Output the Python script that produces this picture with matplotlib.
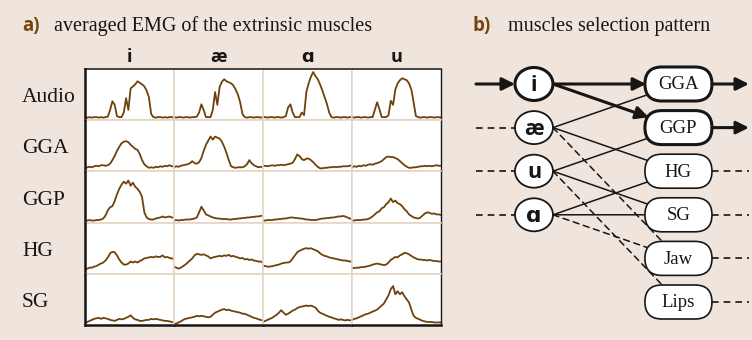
import matplotlib
matplotlib.use('Agg')
import numpy as np
import matplotlib.pyplot as plt
from matplotlib.patches import Ellipse, FancyBboxPatch

# ---- panel a data: averaged EMG, one list per vowel (i, ae, a, u), scaled 0..1 of cell height
vowels_a = ['i', 'æ', 'ɑ', 'u']
signals = ['Audio', 'GGA', 'GGP', 'HG', 'SG']

audio = [
    [0.06, 0.05, 0.06, 0.05, 0.06, 0.06, 0.05, 0.06, 0.05, 0.06, 0.07, 0.2, 0.37, 0.3, 0.08, 0.06, 0.06, 0.15, 0.43, 0.2,
     0.62, 0.66, 0.7, 0.76, 0.73, 0.7, 0.66, 0.58, 0.45, 0.12, 0.06, 0.05, 0.06, 0.06, 0.05, 0.06, 0.05, 0.06, 0.06, 0.05],
    [0.06, 0.05, 0.06, 0.06, 0.05, 0.06, 0.06, 0.05, 0.06, 0.06, 0.07, 0.15, 0.31, 0.2, 0.06, 0.06, 0.06, 0.2, 0.55, 0.3,
     0.65, 0.75, 0.8, 0.76, 0.74, 0.72, 0.68, 0.6, 0.5, 0.35, 0.12, 0.06, 0.05, 0.06, 0.06, 0.05, 0.06, 0.06, 0.05, 0.06],
    [0.06, 0.06, 0.05, 0.06, 0.06, 0.05, 0.06, 0.06, 0.05, 0.06, 0.08, 0.25, 0.31, 0.15, 0.06, 0.06, 0.06, 0.15, 0.1, 0.55,
     0.72, 0.85, 0.94, 0.86, 0.8, 0.7, 0.58, 0.45, 0.32, 0.15, 0.06, 0.05, 0.06, 0.06, 0.05, 0.06, 0.06, 0.05, 0.06, 0.06],
    [0.06, 0.05, 0.06, 0.06, 0.05, 0.06, 0.06, 0.05, 0.06, 0.06, 0.2, 0.35, 0.22, 0.06, 0.06, 0.06, 0.1, 0.38, 0.3, 0.6,
     0.72, 0.78, 0.82, 0.8, 0.78, 0.72, 0.6, 0.35, 0.08, 0.06, 0.05, 0.06, 0.06, 0.05, 0.06, 0.06, 0.05, 0.06, 0.06, 0.05],
]
gga = [
    [0.06, 0.08, 0.09, 0.08, 0.1, 0.11, 0.1, 0.12, 0.12, 0.11, 0.12, 0.15, 0.22, 0.3, 0.4, 0.48, 0.55, 0.58, 0.59, 0.57,
     0.52, 0.48, 0.44, 0.42, 0.34, 0.22, 0.14, 0.1, 0.07, 0.08, 0.07, 0.09, 0.08, 0.1, 0.09, 0.11, 0.1, 0.12, 0.1, 0.1],
    [0.08, 0.1, 0.09, 0.11, 0.12, 0.13, 0.14, 0.16, 0.2, 0.16, 0.15, 0.18, 0.26, 0.4, 0.52, 0.6, 0.68, 0.62, 0.68, 0.66,
     0.64, 0.58, 0.48, 0.36, 0.22, 0.1, 0.08, 0.07, 0.08, 0.08, 0.08, 0.1, 0.14, 0.22, 0.16, 0.12, 0.1, 0.08, 0.09, 0.08],
    [0.1, 0.11, 0.1, 0.11, 0.12, 0.11, 0.12, 0.12, 0.13, 0.12, 0.13, 0.14, 0.15, 0.17, 0.24, 0.33, 0.3, 0.24, 0.22, 0.25,
     0.25, 0.22, 0.18, 0.13, 0.09, 0.06, 0.06, 0.07, 0.07, 0.08, 0.08, 0.09, 0.08, 0.09, 0.09, 0.1, 0.1, 0.1, 0.11, 0.12],
    [0.08, 0.1, 0.09, 0.11, 0.1, 0.12, 0.11, 0.13, 0.14, 0.13, 0.15, 0.16, 0.18, 0.2, 0.24, 0.28, 0.29, 0.28, 0.28, 0.26,
     0.24, 0.2, 0.16, 0.12, 0.09, 0.07, 0.07, 0.08, 0.08, 0.09, 0.1, 0.1, 0.11, 0.1, 0.11, 0.1, 0.11, 0.12, 0.11, 0.11],
]
ggp = [
    [0.04, 0.04, 0.05, 0.04, 0.04, 0.05, 0.05, 0.06, 0.08, 0.14, 0.24, 0.3, 0.32, 0.42, 0.55, 0.66, 0.74, 0.8, 0.76, 0.82,
     0.72, 0.78, 0.7, 0.66, 0.6, 0.5, 0.2, 0.1, 0.07, 0.06, 0.06, 0.08, 0.09, 0.1, 0.12, 0.1, 0.11, 0.12, 0.1, 0.1],
    [0.04, 0.05, 0.04, 0.05, 0.05, 0.06, 0.06, 0.06, 0.07, 0.08, 0.1, 0.2, 0.31, 0.24, 0.16, 0.14, 0.12, 0.1, 0.09, 0.08,
     0.08, 0.07, 0.07, 0.07, 0.06, 0.06, 0.07, 0.07, 0.08, 0.08, 0.09, 0.09, 0.1, 0.1, 0.11, 0.11, 0.12, 0.12, 0.13, 0.14],
    [0.04, 0.04, 0.05, 0.05, 0.05, 0.06, 0.06, 0.07, 0.07, 0.08, 0.08, 0.09, 0.1, 0.1, 0.09, 0.09, 0.08, 0.08, 0.07, 0.06,
     0.06, 0.05, 0.05, 0.05, 0.06, 0.07, 0.08, 0.08, 0.09, 0.09, 0.1, 0.1, 0.11, 0.12, 0.12, 0.13, 0.12, 0.1, 0.08, 0.07],
    [0.04, 0.04, 0.05, 0.05, 0.05, 0.06, 0.06, 0.07, 0.09, 0.12, 0.16, 0.2, 0.22, 0.28, 0.3, 0.36, 0.4, 0.47, 0.4, 0.43,
     0.38, 0.36, 0.32, 0.26, 0.22, 0.16, 0.13, 0.1, 0.09, 0.08, 0.1, 0.14, 0.18, 0.2, 0.19, 0.17, 0.18, 0.16, 0.16, 0.15],
]
hg = [
    [0.1, 0.1, 0.12, 0.12, 0.14, 0.15, 0.18, 0.2, 0.22, 0.26, 0.32, 0.4, 0.43, 0.42, 0.36, 0.28, 0.22, 0.18, 0.18, 0.2,
     0.24, 0.22, 0.24, 0.22, 0.25, 0.27, 0.3, 0.31, 0.32, 0.33, 0.32, 0.34, 0.33, 0.33, 0.36, 0.32, 0.33, 0.31, 0.3, 0.29],
    [0.14, 0.12, 0.1, 0.12, 0.15, 0.18, 0.22, 0.26, 0.3, 0.36, 0.39, 0.38, 0.37, 0.38, 0.36, 0.34, 0.3, 0.32, 0.33, 0.34,
     0.35, 0.34, 0.36, 0.35, 0.37, 0.34, 0.35, 0.33, 0.32, 0.3, 0.31, 0.28, 0.29, 0.27, 0.28, 0.26, 0.25, 0.24, 0.24, 0.22],
    [0.16, 0.15, 0.14, 0.14, 0.15, 0.16, 0.17, 0.18, 0.2, 0.21, 0.22, 0.22, 0.24, 0.3, 0.36, 0.42, 0.45, 0.47, 0.49, 0.5,
     0.49, 0.5, 0.48, 0.46, 0.44, 0.4, 0.37, 0.35, 0.34, 0.32, 0.31, 0.3, 0.29, 0.28, 0.27, 0.26, 0.26, 0.25, 0.24, 0.24],
    [0.12, 0.11, 0.12, 0.12, 0.13, 0.13, 0.14, 0.15, 0.16, 0.18, 0.19, 0.2, 0.19, 0.18, 0.17, 0.18, 0.22, 0.27, 0.3, 0.33,
     0.32, 0.36, 0.38, 0.41, 0.4, 0.38, 0.35, 0.32, 0.3, 0.28, 0.28, 0.27, 0.27, 0.26, 0.27, 0.26, 0.25, 0.25, 0.24, 0.24],
]
sg = [
    [0.04, 0.06, 0.08, 0.1, 0.12, 0.13, 0.14, 0.12, 0.14, 0.13, 0.12, 0.1, 0.09, 0.08, 0.1, 0.12, 0.11, 0.12, 0.14, 0.16,
     0.19, 0.14, 0.11, 0.1, 0.08, 0.08, 0.09, 0.1, 0.1, 0.12, 0.11, 0.12, 0.11, 0.1, 0.09, 0.08, 0.08, 0.07, 0.06, 0.05],
    [0.02, 0.03, 0.05, 0.07, 0.1, 0.12, 0.13, 0.14, 0.15, 0.16, 0.18, 0.17, 0.18, 0.17, 0.16, 0.15, 0.16, 0.2, 0.24, 0.26,
     0.28, 0.3, 0.31, 0.29, 0.3, 0.28, 0.27, 0.26, 0.25, 0.24, 0.22, 0.22, 0.2, 0.18, 0.16, 0.14, 0.13, 0.11, 0.1, 0.08],
    [0.06, 0.08, 0.1, 0.12, 0.14, 0.17, 0.2, 0.24, 0.29, 0.24, 0.2, 0.22, 0.25, 0.28, 0.3, 0.33, 0.35, 0.36, 0.37, 0.38,
     0.37, 0.38, 0.36, 0.34, 0.28, 0.24, 0.22, 0.2, 0.18, 0.16, 0.15, 0.13, 0.12, 0.1, 0.11, 0.1, 0.09, 0.1, 0.09, 0.1],
    [0.1, 0.12, 0.13, 0.15, 0.17, 0.19, 0.21, 0.22, 0.24, 0.26, 0.28, 0.3, 0.34, 0.38, 0.42, 0.5, 0.58, 0.7, 0.76, 0.6,
     0.66, 0.6, 0.64, 0.56, 0.5, 0.44, 0.3, 0.18, 0.14, 0.12, 0.1, 0.08, 0.07, 0.06, 0.06, 0.06, 0.05, 0.05, 0.05, 0.05],
]
traces = [audio, gga, ggp, hg, sg]

# ---- panel b data: vowel -> muscle selection
b_vowels = ['i', 'æ', 'u', 'ɑ']
b_muscles = ['GGA', 'GGP', 'HG', 'SG', 'Jaw', 'Lips']
strong_links = [('i', 'GGA'), ('i', 'GGP')]
weak_links = [('æ', 'GGA'), ('æ', 'HG'), ('u', 'GGP'), ('u', 'SG'), ('ɑ', 'HG'), ('ɑ', 'SG')]
dashed_links = [('æ', 'Jaw'), ('u', 'Lips'), ('ɑ', 'Jaw')]
active_vowels = ['i']
active_muscles = ['GGA', 'GGP']

BG = '#EFE5DC'
GRID = '#E3D3C2'
TRACE = '#6E420C'
LABEL = '#764413'
INK = '#161616'
SANS = ['Open Sans', 'DejaVu Sans']
W, H = 752, 340

fig = plt.figure(figsize=(W / 100, H / 100), dpi=100, facecolor=BG)

# ---------------- panel a ----------------
gs = fig.add_gridspec(5, 4, left=85 / W, right=441 / W, bottom=1 - 325 / H, top=1 - 69 / H,
                      wspace=0, hspace=0)
for r in range(5):
    for c in range(4):
        ax = fig.add_subplot(gs[r, c])
        vals = traces[r][c]
        ax.plot(np.arange(len(vals)), vals, color=TRACE, lw=1.3)
        ax.set_xlim(0, len(vals) - 1)
        ax.set_ylim(0, 1)
        ax.set_xticks([])
        ax.set_yticks([])
        ax.set_facecolor('white')
        for side, sp in ax.spines.items():
            sp.set_color(GRID)
            sp.set_linewidth(1.1)
        if c == 0:
            ax.spines['left'].set_color(INK)
            ax.spines['left'].set_linewidth(1.8)
            ax.spines['left'].set_zorder(5)
        if c == 3:
            ax.spines['right'].set_color(INK)
            ax.spines['right'].set_linewidth(1.0)
        if r == 0:
            ax.spines['top'].set_color(INK)
            ax.spines['top'].set_linewidth(1.1)
            ax.set_title(vowels_a[c], fontsize=13, fontweight='bold', family=SANS,
                         color=INK, pad=5)
        if r == 4:
            ax.spines['bottom'].set_color(INK)
            ax.spines['bottom'].set_linewidth(1.8)
            ax.spines['bottom'].set_zorder(5)
        if c == 0:
            ax.text(-63 / 89, 0.35, signals[r], transform=ax.transAxes, ha='left', va='baseline',
                    fontsize=15.5, family='Liberation Serif', color=INK)

fig.text(22 / W, 1 - 31.5 / H, 'a)', fontsize=13.5, fontweight='bold', family=SANS,
         color=LABEL, va='baseline')
fig.text(54 / W, 1 - 31.5 / H, 'averaged EMG of the extrinsic muscles', fontsize=14.5,
         family='Liberation Serif', color=INK, va='baseline')
fig.text(472 / W, 1 - 31.5 / H, 'b)', fontsize=13.5, fontweight='bold', family=SANS,
         color=LABEL, va='baseline')
fig.text(508 / W, 1 - 31.5 / H, 'muscles selection pattern', fontsize=14.5,
         family='Liberation Serif', color=INK, va='baseline')

# ---------------- panel b ----------------
axb = fig.add_axes([462 / W, 1 - 335 / H, (W - 462) / W, 280 / H])
axb.set_xlim(-0.498, 1.509)
axb.set_ylim(5.757, -0.665)
axb.axis('off')

aspect = 144.5 / 43.6
cw, ch = 0.263, 0.757      # vowel ellipse
bw, bh = 0.464, 0.78       # muscle pill
dash = (0, (4, 3))
head = 19

vrow = {v: i for i, v in enumerate(b_vowels)}
mrow = {m: i for i, m in enumerate(b_muscles)}

for v, r in vrow.items():
    strong = v in active_vowels
    axb.add_patch(Ellipse((0, r), cw, ch, facecolor='white', edgecolor=INK,
                          lw=2.2 if strong else 1.3, zorder=3))
    axb.text(0, r + 0.04, v, ha='center', va='center', fontsize=15.5, fontweight='bold',
             family=SANS, color=INK, zorder=4)
    if strong:
        axb.annotate('', xy=(-cw / 2, r), xytext=(-0.401, r),
                     arrowprops=dict(arrowstyle='-|>', lw=2.2, color=INK, mutation_scale=head,
                                     shrinkA=0, shrinkB=0))
    else:
        axb.plot([-0.401, -cw / 2], [r, r], color=INK, lw=1.2, ls=dash)

boxes = {}
for m, r in mrow.items():
    strong = m in active_muscles
    rs = (bh / aspect) / 2
    box = FancyBboxPatch((1 - bw / 2, r - bh / 2), bw, bh,
                         boxstyle=f'round,pad=0,rounding_size={rs}', mutation_aspect=aspect,
                         facecolor='white', edgecolor=INK, lw=2.2 if strong else 1.2, zorder=3)
    axb.add_patch(box)
    boxes[m] = box
    axb.text(1, r + 0.02, m, ha='center', va='center', fontsize=13.5,
             family='Liberation Serif', color=INK, zorder=4)
    if strong:
        axb.annotate('', xy=(1.488, r), xytext=(1 + bw / 2, r),
                     arrowprops=dict(arrowstyle='-|>', lw=2.2, color=INK, mutation_scale=head,
                                     shrinkA=0, shrinkB=0))
    else:
        axb.plot([1 + bw / 2, 1.488], [r, r], color=INK, lw=1.2, ls=dash)

for v, m in strong_links:
    axb.annotate('', xy=(1, mrow[m]), xytext=(cw / 2, vrow[v]),
                 arrowprops=dict(arrowstyle='-|>', lw=2.2, color=INK, mutation_scale=head,
                                 patchB=boxes[m], shrinkA=0, shrinkB=0), zorder=2)
for v, m in weak_links:
    axb.annotate('', xy=(1, mrow[m]), xytext=(cw / 2, vrow[v]),
                 arrowprops=dict(arrowstyle='-', lw=1.1, color=INK,
                                 patchB=boxes[m], shrinkA=0, shrinkB=0), zorder=2)
for v, m in dashed_links:
    axb.annotate('', xy=(1, mrow[m]), xytext=(cw / 2, vrow[v]),
                 arrowprops=dict(arrowstyle='-', lw=1.1, color=INK, linestyle=dash,
                                 patchB=boxes[m], shrinkA=0, shrinkB=0), zorder=2)

fig.savefig('out.png', dpi=100, facecolor=BG)
